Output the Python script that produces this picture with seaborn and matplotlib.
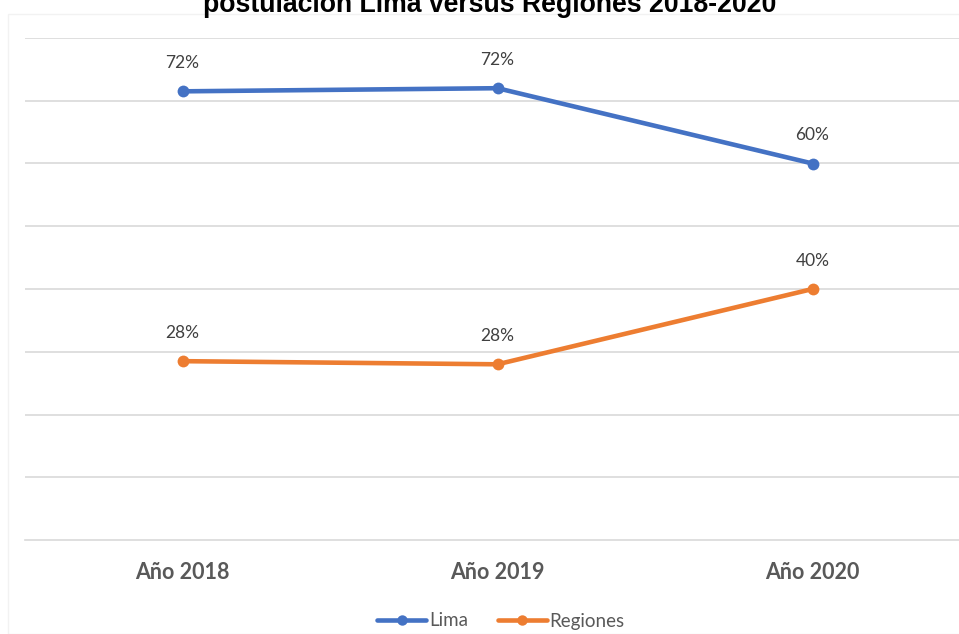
import matplotlib
matplotlib.use("Agg")
import matplotlib.pyplot as plt
import matplotlib.patches as mpatches
from matplotlib.lines import Line2D
import seaborn as sns
import pandas as pd

years = ["Año 2018", "Año 2019", "Año 2020"]
lima = [0.715, 0.72, 0.60]
regiones = [0.285, 0.28, 0.40]
lima_labels = ["72%", "72%", "60%"]
regiones_labels = ["28%", "28%", "40%"]
series_names = ["Lima", "Regiones"]
title = "postulación Lima versus Regiones 2018-2020"

sns.set_theme(style="white")
plt.rcParams["font.family"] = ["Lato", "DejaVu Sans"]

df = pd.DataFrame({
    "year": years * 2,
    "value": lima + regiones,
    "serie": [series_names[0]] * 3 + [series_names[1]] * 3,
})

colors = {"Lima": "#4472C4", "Regiones": "#ED7D31"}

fig = plt.figure(figsize=(9.59, 6.34), dpi=100)
W, H = 959, 634
# faint chart border
fig.patches.append(mpatches.Rectangle((8 / W, 0), 1.0, 1 - 14 / H, transform=fig.transFigure,
                                      fill=False, edgecolor="#f2f2f2", linewidth=1.0))

ax = fig.add_axes([25 / W, (H - 540) / H, 945 / W, (540 - 38) / H])
sns.lineplot(data=df, x="year", y="value", hue="serie", palette=colors, sort=False,
             marker="o", markersize=8.5, markeredgewidth=0, linewidth=3.3, ax=ax, legend=False)

ax.set_xlim(-0.5, 2.5)
ax.set_ylim(0, 0.8)
ax.set_yticks([0.1 * i for i in range(1, 9)])
ax.yaxis.grid(True, color="#d9d9d9", linewidth=1.2)
ax.set_axisbelow(True)
ax.tick_params(axis="y", left=False, labelleft=False)
for s in ["top", "right", "left"]:
    ax.spines[s].set_visible(False)
ax.spines["bottom"].set_color("#d9d9d9")
ax.spines["bottom"].set_linewidth(1.2)
ax.set_xlabel("")
ax.set_ylabel("")

ax.set_xticks(range(len(years)))
ax.set_xticklabels(years, fontsize=15.5, fontweight="bold", color="#595959")
ax.tick_params(axis="x", which="major", length=0, pad=16)
ax.set_xticks([-0.5, 0.5, 1.5, 2.5], minor=True)
ax.tick_params(axis="x", which="minor", length=6, color="#d9d9d9", width=1.2, direction="out")

for i in range(len(years)):
    ax.annotate(lima_labels[i], (i, lima[i]), xytext=(0, 28), textcoords="offset pixels",
                ha="center", va="center", fontsize=12.5, color="#404040")
    ax.annotate(regiones_labels[i], (i, regiones[i]), xytext=(0, 28), textcoords="offset pixels",
                ha="center", va="center", fontsize=12.5, color="#404040")

handles = [Line2D([0], [0], color=colors[n], lw=3.3, marker="o", markersize=7.5, markeredgewidth=0)
           for n in series_names]
fig.legend(handles, series_names, loc="center", bbox_to_anchor=(501 / W, 1 - 621 / H),
           ncol=2, frameon=False, fontsize=13.5, labelcolor="#595959",
           handlelength=2.6, handletextpad=0.15, columnspacing=1.6)

fig.text(490 / W, 1 - 12 / H, title, ha="center", va="baseline", fontsize=19.2,
         fontweight="bold", family=["Liberation Sans", "DejaVu Sans"], color="black")

fig.savefig("out.png", dpi=100)
